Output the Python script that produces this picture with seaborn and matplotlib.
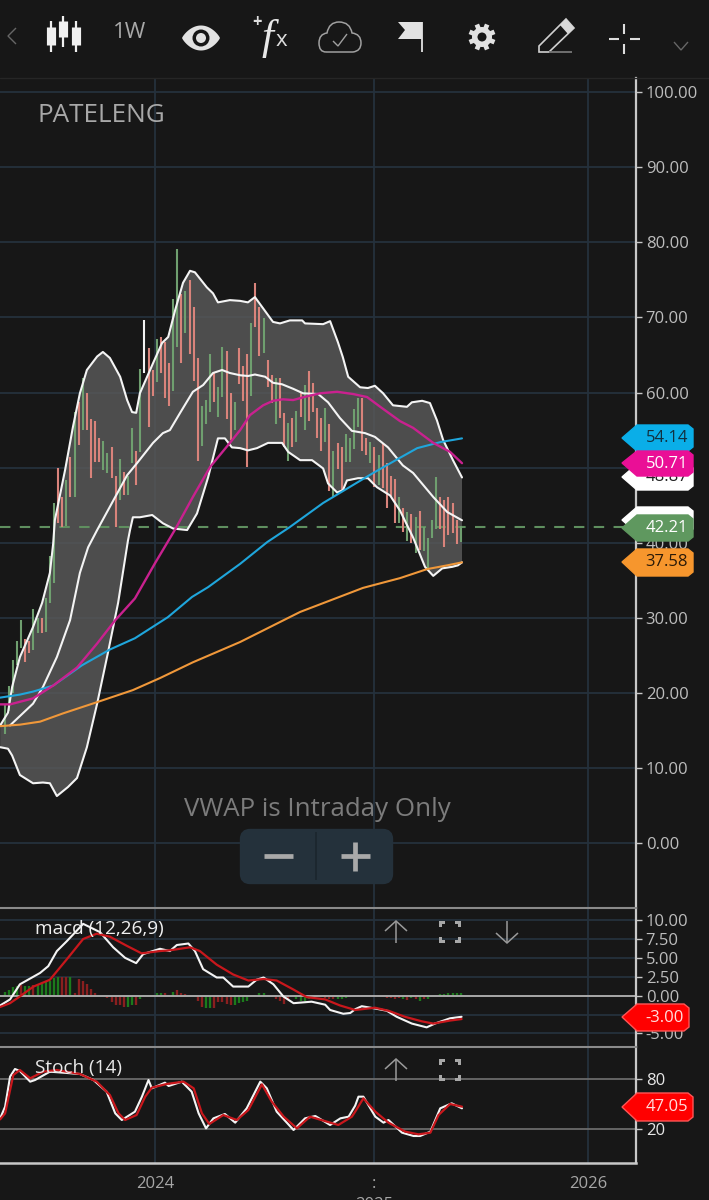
import numpy as np
import pandas as pd
import matplotlib
matplotlib.use("Agg")
import matplotlib.pyplot as plt
from matplotlib.patches import Polygon, Circle, FancyBboxPatch, PathPatch
from matplotlib.path import Path
import seaborn as sns

# ---------- data ----------
ticker = "PATELENG"
bar_high = [18.4,21.0,24.4,26.9,29.7,27.2,26.9,31.2,30.0,30.0,32.6,38.2,
            45.3,49.9,46.1,48.3,51.4,57.4, 58.7,62.0,59.9,56.5,56.2,53.9,
            53.5,51.9,52.7,48.9,51.1, 49.4,48.9,55.3,52.2,63.1,69.6,
            65.9,63.0,67.1,67.4,66.7,63.9, 72.4,79.1,73.1,73.5,75.0,71.4,
            64.6,58.2,59.0,65.1,62.7,60.7, 66.0,65.5,59.9,58.7,65.9,63.5,
            65.1,69.2,74.6,71.4,69.9,64.3, 62.3,62.0,61.9,57.3,55.9,
            56.6,57.5,60.0,61.0,62.8,61.3, 58.0,56.6,58.0,55.8,52.2,53.3,
            52.7,54.5,53.9,57.8,59.3,59.3, 53.9,53.4,52.7,51.7,53.3,50.6,
            48.9,48.5,46.1,44.6,44.1,43.8, 43.5,44.3,42.1,40.6,43.0,48.7,
            46.1,45.7,46.1,45.3,43.1,42.3]
bar_low = [14.5,17.6,20.0,23.7,26.0,24.1,25.4,25.7,28.0,28.0,28.1,32.0,
           34.7,42.6,42.1,42.3,46.1,46.1, 53.0,55.0,55.0,48.6,50.7,50.7,
           49.7,49.3,48.6,42.1,45.7, 46.3,46.3,50.6,47.7,52.1,62.6,
           55.4,59.5,61.4,62.6,59.3,58.2, 60.2,66.0,63.9,67.9,65.1,61.5,
           50.9,52.9,55.8,57.4,58.7,56.7, 59.4,56.5,53.7,55.0,61.1,58.9,
           50.1,59.5,68.7,64.8,65.2,60.7, 58.6,55.8,56.6,52.7,50.9,
           52.7,53.4,56.7,55.0,56.2,57.4, 53.9,52.2,53.4,46.9,46.1,49.8,
           46.9,50.7,50.7,52.5,55.4,52.2, 51.7,50.6,47.4,47.7,47.3,44.6,
           46.1,42.6,42.6,41.4,40.3,40.0, 38.6,39.0,38.9,36.6,40.6,41.9,
           41.9,39.5,41.0,41.3,39.8,40.1]
bar_dir = list("gggggrrggrgg" "grrgrg" "rgrrrr" "ggrrg" "rggrgw" "rrgrrr" "ggrgrr"
               "rgggrg" "grrgrr" "rgrrgr" "rgrrg" "rgrgrr" "rrgrgr" "rggggr"
               "rgrgrr" "rrgrgr" "grgggg" "rrrrrg")

upper_w = [-1.1,0.8,1.8,3.7,6.9,9.1,11.0,11.8,12.2,14.7,16.6,18.3,20.0,22.5,23.9,25.6,28.1,29.8,31.0,32.0,32.9,
           36.1,38.3,39.8,41.5,43.4,45.1,46.3,49.2,50.7,51.9,54.8,57.3,59.2,60.9,62.9,65.3,67.0,69.4,72.4,73.1,
           77.5,79.2,81.1,82.3,83.6,86.5,88.4,90.1,92.1,94.5,97.9,99.1,101.6,103.5,105.2,106.7,109.1,111.3]
upper_v = [15.7,17.4,20.8,24.8,28.8,32.0,36.0,39.9,43.0,49.7,55.4,59.9,63.0,64.8,65.4,64.6,62.1,59.0,57.4,57.3,59.9,
           63.9,66.6,67.4,71.0,74.6,76.2,76.0,74.0,73.2,72.0,72.3,72.2,72.0,72.7,71.2,69.4,69.2,69.6,69.6,69.2,
           69.1,69.5,66.7,64.7,62.1,60.7,60.6,60.9,59.9,58.3,58.1,58.7,58.9,58.6,56.3,53.7,51.0,48.7]
lower_w = [-1.1,0.8,1.8,3.7,6.9,9.3,11.0,12.7,15.4,17.6,20.0,22.5,25.1,27.6,30.0,30.5,31.2,32.9,35.9,38.5,41.0,
           44.4,46.8,49.5,51.9,53.6,55.3,57.3,59.2,61.4,64.1,67.5,69.0,71.9,74.8,77.5,78.7,80.9,82.3,83.3,86.0,
           88.4,90.6,93.8,96.2,99.4,102.3,104.3,106.5,108.9,110.3,111.3]
lower_v = [12.8,12.6,11.7,9.1,8.0,8.1,8.0,6.3,7.5,8.7,12.8,18.6,25.3,32.0,40.3,41.7,43.4,43.4,43.7,42.6,41.9,
           41.7,43.9,48.7,53.9,53.9,52.7,52.6,52.3,52.6,53.3,53.3,52.1,51.0,51.0,49.9,47.9,46.7,47.0,48.3,48.6,
           48.6,47.4,46.3,44.3,40.7,36.8,35.6,36.6,36.8,37.0,37.4]
mid_w = [1.3,6.9,9.3,12.7,15.9,18.3,20.3,22.5,26.9,29.8,32.2,36.1,38.5,40.2,42.7,45.8,48.3,50.7,52.9,54.8,57.3,
         59.2,60.9,63.4,65.3,67.5,70.2,72.6,76.3,78.7,81.6,84.5,87.7,90.1,93.3,96.9,99.4,104.3,107.7,111.3]
mid_v = [15.7,18.6,20.8,24.8,29.7,36.0,39.4,41.7,46.1,49.0,50.6,53.3,54.6,55.0,57.3,60.1,61.0,62.6,63.0,62.6,62.3,
         62.2,62.4,62.1,61.3,61.1,60.5,59.9,59.8,58.7,56.6,54.9,54.6,54.1,52.7,50.3,49.3,46.1,44.1,43.0]
pink_w = [-1.1,1.3,6.9,11.8,17.6,22.5,26.9,31.7,36.6,41.5,45.8,50.0,54.8,57.3,59.7,62.9,65.3,67.7,70.2,73.6,76.8,
          80.9,84.8,88.2,91.4,96.2,99.4,104.3,108.4,111.3]
pink_v = [18.5,18.5,19.3,21.0,23.4,26.6,29.7,32.6,37.3,41.8,46.1,50.1,53.3,55.0,57.0,58.3,58.9,59.1,59.0,59.5,59.9,
          60.1,59.8,59.4,58.1,56.2,55.3,53.3,52.1,50.6]
blue_w = [-1.1,3.7,6.9,11.8,18.8,25.6,31.7,39.7,45.6,49.5,57.3,63.9,69.4,77.5,84.8,89.7,95.5,100.4,106.0,111.3]
blue_v = [19.4,19.8,20.2,21.0,23.7,25.8,27.3,30.1,32.8,34.1,37.2,40.1,42.1,45.3,47.7,49.3,51.1,52.6,53.4,53.9]
orange_w = [-1.1,3.7,8.6,14.2,22.5,31.2,37.8,45.8,57.3,71.9,87.2,96.2,102.8,107.7,111.3]
orange_v = [15.6,15.8,16.2,17.3,18.8,20.4,22.0,24.1,26.8,30.8,34.0,35.3,36.5,37.0,37.4]

macd_w = [-1.1,1.3,3.7,8.6,10.6,12.7,15.1,19.1,23.2,26.4,29.3,32.0,33.7,37.8,40.2,41.9,44.7,46.3,48.3,51.6,53.2,
          55.6,59.3,61.3,63.0,65.4,67.8,70.3,74.7,78.0,79.2,82.4,84.1,85.3,86.9,90.1,93.0,95.4,99.1,102.7,104.7,108.4,111.2]
macd_v = [-1.3,-0.5,1.5,3.0,3.9,5.9,7.2,9.5,8.4,6.4,5.0,4.3,5.5,6.2,5.9,6.7,6.9,5.9,3.5,2.4,2.4,
          1.2,1.2,2.1,2.4,1.5,-0.1,-1.0,-0.8,-1.2,-1.9,-2.4,-2.3,-1.8,-1.4,-1.7,-2.0,-2.8,-3.7,-4.2,-3.7,-3.0,-2.8]
signal_w = [-1.1,1.3,3.7,7.0,11.0,15.1,19.1,22.4,25.6,29.7,33.3,37.8,40.2,45.1,47.5,51.6,55.6,59.3,63.0,66.2,70.3,
            73.5,78.0,81.6,85.3,90.1,93.4,97.4,101.5,104.3,108.4,111.2]
signal_v = [-1.5,-1.0,-0.1,1.2,2.1,4.8,7.5,8.2,7.8,6.6,5.6,5.9,6.0,6.4,5.9,4.1,2.8,2.0,2.2,2.0,0.8,
            -0.2,-0.5,-1.3,-1.9,-1.6,-2.0,-2.8,-3.4,-3.7,-3.3,-3.1]
hist_v = [.5,.8,1.1,1.3,1.4,1.3,1.3,1.4,1.4,1.6,1.8,2.0,2.3,2.5,2.5,2.5,2.5,.4,2.2,2.0,1.6,.9,.4,.1,
          -.1,-.3,-.9,-1.2,-1.3,-1.5,-1.5,-1.3,-1.2,-.4,.05,.1,.1,.4,.4,.4,.1,.5,.7,.4,.2,.1,-.1,-.7,
          -1.5,-1.7,-1.6,-1.6,-.9,-.9,-1.1,-1.3,-1.2,-1.0,-.8,-.7,.1,.1,.3,.3,.1,-.2,-.4,-.7,-1.1,-.5,
          -.2,-.5,-.7,-.7,-.4,-.2,-.2,-.2,-.3,-.5,-.5,-.4,-.5,-.3,-.2,-.1,.1,.1,.1,.1,.1,.1,-.2,-.3,
          -.3,-.4,-.3,-.4,-.6,-.3,-.5,-.7,-.4,-.4,-.2,.1,.2,.2,.3,.3,.4,.4]
hist_dir = list("ggggrggrgggggg" "rrg" "rrrrrrrrrrrrr" "gg" "r" "gggggg" "rr" "g" "rrrrrrr" "gg"
                "rrrrr" "ggggggggg" "rrrrr" "ggggg" "rrrrrr" "ggggg" "rr" "g" "rrrrrrrr"
                "grgrgr" "ggggggggg")

stochk_w = [-1.1,0.1,1.3,2.5,3.7,6.2,7.4,11.0,18.3,21.6,24.8,26.9,28.5,31.7,33.4,35.0,35.8,39.0,39.9,43.1,45.5,47.2,
            49.0,50.8,53.6,56.1,58.9,62.2,63.8,66.2,70.3,73.1,75.6,79.2,81.7,83.7,85.3,86.1,87.3,90.2,92.2,93.4,
            96.7,99.5,101.1,103.6,106.0,108.8,111.3]
stochk_v = [32.8,46.8,82.8,92.0,89.6,76.8,78.8,88.8,86.0,78.8,64.8,38.8,30.8,40.8,58.8,78.8,68.8,75.6,71.6,76.8,64.8,38.8,
            20.8,32.8,38.0,27.6,44.8,76.8,68.8,40.8,18.8,32.8,35.6,24.8,32.8,34.8,48.0,58.8,58.8,34.8,27.6,30.8,
            15.6,11.6,11.6,16.8,44.8,50.8,44.8]
stochd_w = [-1.1,0.1,2.1,3.7,6.2,9.4,12.7,18.3,22.4,25.6,27.7,29.3,32.1,34.2,35.8,39.4,43.5,46.0,48.0,49.8,53.2,56.5,
            59.3,62.6,65.0,67.9,71.1,74.3,81.2,84.5,85.3,87.3,90.2,93.4,97.5,100.7,103.6,105.6,108.4,111.3]
stochd_v = [31.6,38.8,84.8,90.8,80.8,88.8,90.8,86.0,76.8,60.8,38.8,30.8,36.8,58.8,69.6,74.0,76.8,68.8,38.8,26.0,36.8,30.8,
            42.8,73.6,52.8,34.8,20.8,34.8,24.8,34.8,40.8,56.8,40.8,27.6,16.8,13.6,15.6,36.8,50.0,46.8]

price_ticks = [100, 90, 80, 70, 60, 50, 40, 30, 20, 10, 0]
macd_ticks = [10, 7.5, 5, 2.5, 0, -2.5, -5]
stoch_ticks = [80, 20]
year_weeks = [36.6, 89.9, 142.0]
year_labels = ["2024", ":\n2025", "2026"]
last_close_line = 42.05

# ---------- style ----------
BG = "#171717"; GRID = "#25313c"; AXIS = "#c8c8c8"; TXT = "#bdbdbd"
sns.set_theme(style="dark", rc={"figure.facecolor": BG, "axes.facecolor": BG, "savefig.facecolor": BG})
plt.rcParams["font.family"] = ["Open Sans", "DejaVu Sans"]
W, H = 709, 1200
fig = plt.figure(figsize=(W / 100, H / 100), dpi=100)

def panel(top, bottom):
    return fig.add_axes([0, 1 - bottom / H, 636 / W, (bottom - top) / H])

XLIM = (-1.144, 153.65)
ax = panel(78, 908); ax2 = panel(908, 1047); ax3 = panel(1047, 1163)
ax.set_ylim(-8.6, 101.86); ax2.set_ylim(-6.8, 11.6); ax3.set_ylim(-20.8, 118.4)

for a, ticks in ((ax, price_ticks), (ax2, macd_ticks), (ax3, stoch_ticks)):
    a.set_xlim(*XLIM)
    a.set_xticks(year_weeks)
    a.yaxis.tick_right()
    a.set_yticks(ticks)
    for s in a.spines.values():
        s.set_visible(False)
    a.spines["right"].set_visible(True); a.spines["right"].set_color(AXIS); a.spines["right"].set_linewidth(1.6)
    a.tick_params(axis="y", length=4, width=1, color=AXIS, labelcolor=TXT, labelsize=12, pad=3, right=True, left=False)
    a.tick_params(axis="x", length=0, labelbottom=False)
    a.grid(True, color=GRID, lw=1.3)
    a.set_axisbelow(True)

ax.set_yticklabels([f"{t:.2f}" for t in price_ticks])
ax2.set_yticklabels([f"{t:.2f}" for t in macd_ticks])
ax3.set_yticklabels([str(t) for t in stoch_ticks], color="#e6e6e6")
for a in (ax2, ax3):
    a.spines["top"].set_visible(True); a.spines["top"].set_color("#8a8a8a"); a.spines["top"].set_linewidth(1.5)
ax3.spines["bottom"].set_visible(True); ax3.spines["bottom"].set_color(AXIS); ax3.spines["bottom"].set_linewidth(1.8)
ax3.tick_params(axis="x", length=7, width=1.3, color=AXIS, labelbottom=True, labelcolor="#a6a6a6", labelsize=12, pad=2)
ax3.set_xticklabels(year_labels, va="top")
ax3.get_xticklabels()[1].set_linespacing(1.42)
ax3.yaxis.grid(True, color="#6b6b6b", lw=1.3)

# ---------- price panel ----------
ax.fill(upper_w + lower_w[::-1], upper_v + lower_v[::-1], color="#5a5a5a", alpha=0.82, lw=0, zorder=1.8)
ax.axhline(last_close_line, color="#5f8f5f", lw=1.5, dashes=(5, 4.5), zorder=1.9)
weeks = np.arange(len(bar_high))
bar_col = {"g": "#6f9f6f", "r": "#d9837b", "w": "#f2f2f2"}
ax.vlines(weeks, bar_low, bar_high, colors=[bar_col[d] for d in bar_dir], lw=1.5, zorder=2)

def line(a, w, v, color, lw=1.5, z=3):
    sns.lineplot(data=pd.DataFrame({"w": w, "v": v}), x="w", y="v", ax=a, color=color, lw=lw,
                 sort=False, estimator=None, legend=False, zorder=z)
    a.set_xlabel(""); a.set_ylabel("")

line(ax, upper_w, upper_v, "#f4f4f4", 1.5)
line(ax, lower_w, lower_v, "#f4f4f4", 1.5)
line(ax, mid_w, mid_v, "#f4f4f4", 1.5)
line(ax, orange_w, orange_v, "#f0983a", 1.5)
line(ax, blue_w, blue_v, "#1fa6dc", 1.5)
line(ax, pink_w, pink_v, "#c9218f", 1.7)

# ---------- MACD ----------
hist_col = {"g": "#1c7a1c", "r": "#8a1f1f"}
ax2.vlines(np.arange(len(hist_v)), 0, hist_v, colors=[hist_col[d] for d in hist_dir], lw=1.7, zorder=2)
ax2.axhline(0, color="#a8a8a8", lw=1.4, zorder=2.2)
line(ax2, macd_w, macd_v, "#f4f4f4", 1.5)
line(ax2, signal_w, signal_v, "#c9171c", 1.6, z=3.1)

# ---------- Stochastic ----------
line(ax3, stochk_w, stochk_v, "#f4f4f4", 1.5)
line(ax3, stochd_w, stochd_v, "#c9171c", 1.6, z=3.1)

# ---------- overlay chrome in figure pixels ----------
ov = fig.add_axes([0, 0, 1, 1], facecolor="none")
ov.set_xlim(0, W); ov.set_ylim(H, 0); ov.axis("off")

def seg(pts, c="#dddddd", lw=1.5):
    xs, ys = zip(*pts)
    ov.plot(xs, ys, color=c, lw=lw, solid_capstyle="butt", solid_joinstyle="miter")

ov.plot([0, W], [78, 78], color="#262626", lw=1)
ov.text(38, 116, ticker, color="#a8a8a8", fontsize=18.8, va="center", ha="left")
ov.text(317, 809, "VWAP is Intraday Only", color="#7c7c7c", fontsize=18.6, va="center", ha="center")
ov.add_patch(FancyBboxPatch((244, 833), 145, 47, boxstyle="round,pad=0,rounding_size=6", fc="#24313b", ec="#24313b", lw=6))
seg([(316, 832), (316, 880)], "#1b252d", 1.2)
seg([(264, 856), (293, 856)], "#a9a9a9", 3.4)
seg([(341, 856), (370, 856)], "#a9a9a9", 3.4)
seg([(355, 842), (355, 871)], "#a9a9a9", 3.4)

# toolbar
seg([(16, 28), (8, 36), (16, 44)], "#666666", 1)
for cx, t, b, wt, wb in ((51, 27, 45, 21, 52), (63, 21, 37, 16, 47), (76, 27, 45, 21, 52)):
    seg([(cx, t), (cx, b)], "#f0f0f0", 6.6)
    seg([(cx, wt), (cx, wb)], "#f0f0f0", 1.6)
ov.text(130, 32, "1W", color="#a8a8a8", fontsize=16, ha="center", va="center")
tt = np.linspace(-1, 1, 40)
eye_top = np.c_[201 + 19 * tt, 38 - 12.5 * (1 - tt ** 2) ** 0.85]
eye_bot = np.c_[201 - 19 * tt, 38 + 12.5 * (1 - tt ** 2) ** 0.85]
ov.add_patch(Polygon(np.r_[eye_top, eye_bot], fc="#e2e2e2", ec="none"))
ov.add_patch(Circle((201, 38), 8.5, fc=BG, ec="none"))
ov.add_patch(Circle((201, 38), 5, fc="#e2e2e2", ec="none"))
ov.text(257, 22, "+", color="#dddddd", fontsize=12, ha="center", va="center", fontweight="bold")
ov.text(268, 39, "f", color="#e8e8e8", fontsize=31, ha="center", va="center", family="Liberation Serif", style="italic")
ov.text(281, 41, "x", color="#dddddd", fontsize=16, ha="center", va="center")
cloud = Path([(326, 52), (353, 52), (361, 51), (361, 43), (361, 34), (352, 33), (350, 22), (339, 22),
              (329, 22), (327, 33), (319, 34), (319, 43), (319, 52), (326, 52)],
             [Path.MOVETO, Path.LINETO] + [Path.CURVE3] * 12)
ov.add_patch(PathPatch(cloud, fc="none", ec="#a0a0a0", lw=1.1))
seg([(333, 41), (338, 46), (347, 34)], "#a0a0a0", 1)
ov.add_patch(Polygon([(398, 22), (422, 22), (422, 39), (398, 39), (405, 30)], fc="#e2e2e2", ec="none"))
seg([(422, 22), (422, 52)], "#e2e2e2", 1.3)
ov.add_patch(Circle((482, 37), 10, fc="#e2e2e2", ec="none"))
for k in range(8):
    a_ = k * np.pi / 4 + np.pi / 8
    seg([(482 + 8 * np.cos(a_), 37 + 8 * np.sin(a_)), (482 + 13.5 * np.cos(a_), 37 + 13.5 * np.sin(a_))], "#e2e2e2", 3.4)
ov.add_patch(Circle((482, 37), 4.5, fc=BG, ec="none"))
ov.add_patch(Polygon([(539, 52), (539, 46), (566, 19), (574, 28), (549, 52)], fc="none", ec="#d0d0d0", lw=1.2))
ov.add_patch(Polygon([(560, 25), (566, 19), (574, 28), (568, 34)], fc="#d8d8d8", ec="none"))
seg([(549, 52), (572, 52)], "#777777", 1.3)
seg([(609, 39), (619, 39)]); seg([(630, 39), (640, 39)])
seg([(624, 24), (624, 34)]); seg([(624, 44), (624, 54)])
seg([(674, 42), (681, 50), (688, 42)], "#666666", 1)

# indicator headers
ov.text(35, 929, "macd (12,26,9)", color="#f0f0f0", fontsize=13.7, va="center")
ov.text(35, 1068, "Stoch (14)", color="#e8e8e8", fontsize=13.7, va="center")

def up(x, y, sign=1):
    seg([(x, y - 11 * sign), (x, y + 11 * sign)], "#9a9a9a", 1.1)
    seg([(x - 11, y - sign), (x, y - 11 * sign), (x + 11, y - sign)], "#9a9a9a", 1.1)

def brackets(x, y):
    d, L = 11, 6
    for sx in (-1, 1):
        for sy in (-1, 1):
            ov.add_patch(Polygon([(x + sx * d, y + sy * d), (x + sx * (d - L), y + sy * d), (x + sx * (d - L), y + sy * (d - 3)),
                                  (x + sx * (d - 3), y + sy * (d - 3)), (x + sx * (d - 3), y + sy * (d - L)), (x + sx * d, y + sy * (d - L))],
                                 fc="#a8a8a8", ec="none"))

up(396, 932); brackets(450, 932); up(507, 932, -1)
up(396, 1070); brackets(450, 1070)

# value flags, painted in order so later flags cover earlier ones
flag_z = [10]
def flag(label, yc, top, bot, fc, tc, right=693, edge=None):
    z = flag_z[0]; flag_z[0] += 1
    pts = [(622, yc), (637, top), (right - 5, top), (right, top + 4), (right, bot - 4), (right - 5, bot), (637, bot)]
    ov.add_patch(Polygon(pts, closed=True, fc=fc, ec=edge or fc, lw=1, zorder=z))
    if label:
        ov.text(right - 5, (top + bot) / 2, label, color=tc, fontsize=12, ha="right", va="center", zorder=z + 0.5)

flag("54.14", 438, 425, 451, "#0aaee8", "#12303f")
flag("48.87", 477, 464, 490, "#ffffff", "#222222")
flag("50.71", 463, 451, 476, "#ea0f96", "#ffffff")
flag("", 520, 507, 533, "#ffffff", "#222222")
flag("42.21", 528, 515, 541, "#5f985f", "#ffffff")
flag("37.58", 562, 549, 576, "#f6962d", "#2a1a08")
flag("-3.00", 1017, 1004, 1031, "#ff0000", "#ffdede", right=689, edge="#ff5555")
flag("47.05", 1107, 1093, 1121, "#ff0000", "#ffdede", right=693, edge="#ff5555")

fig.savefig("out.png", dpi=100, facecolor=BG)
